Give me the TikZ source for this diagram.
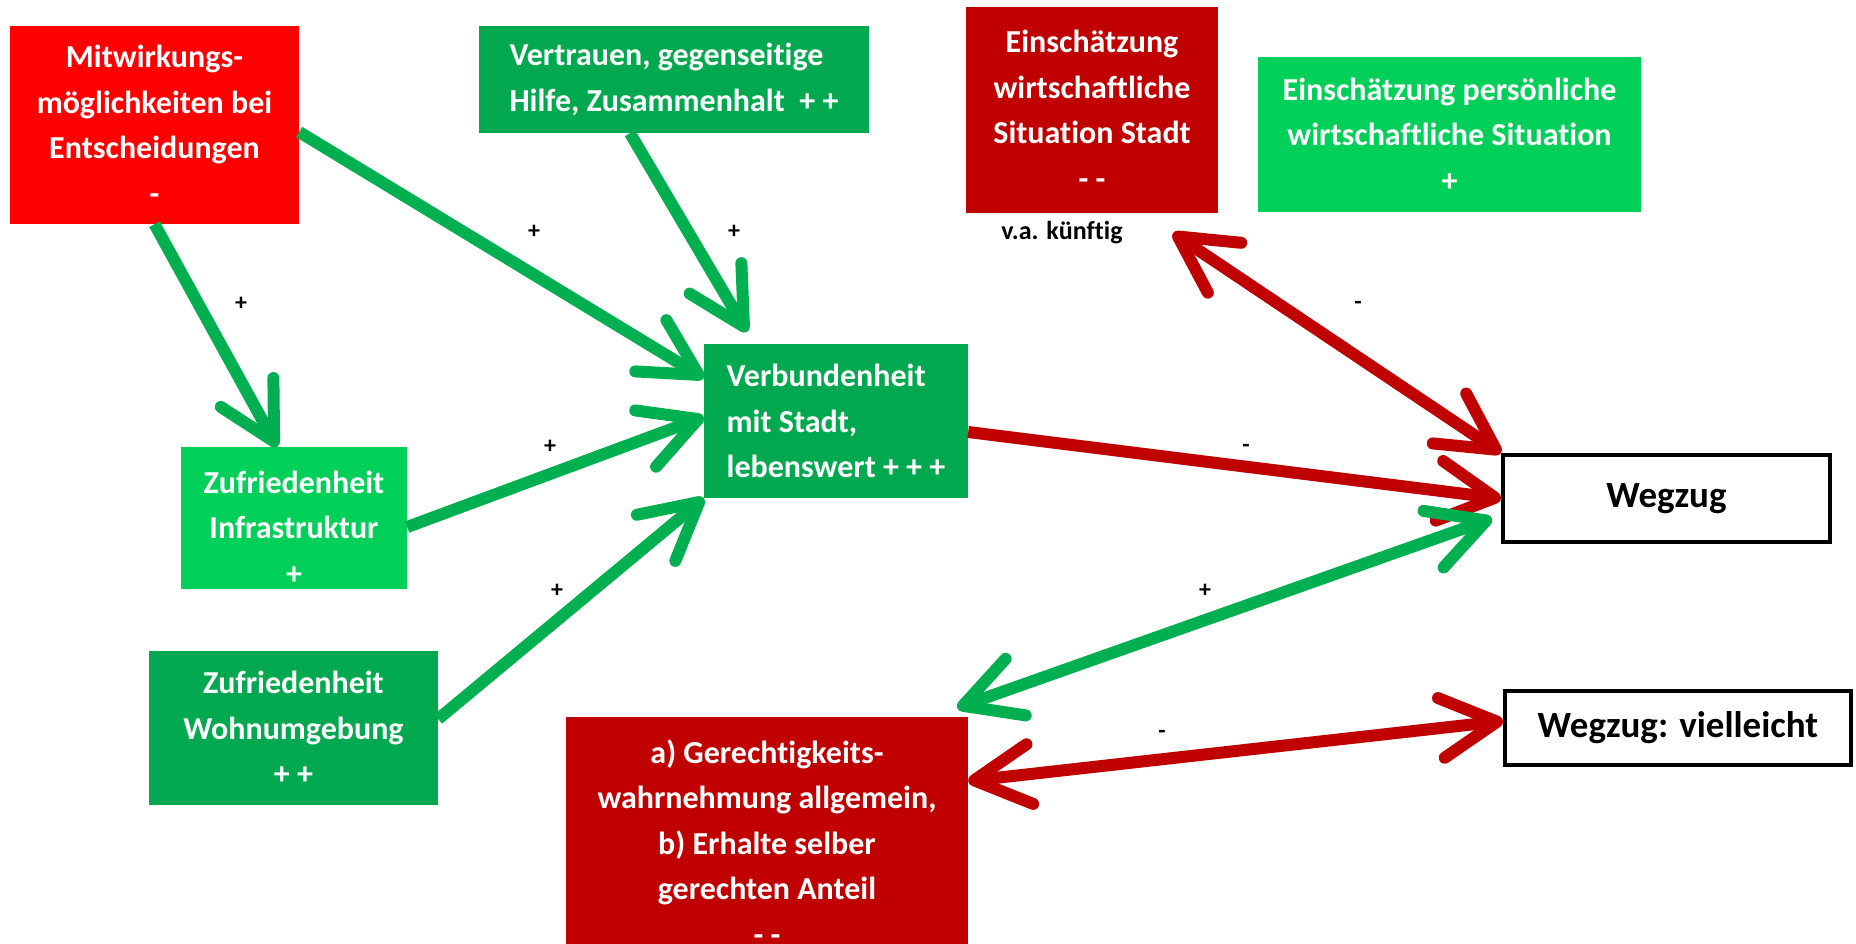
\documentclass[tikz,border=0pt]{standalone}
\usepackage{fontspec}
\setmainfont{Carlito}[Ligatures={TeX,NoCommon}]
\usepackage{tikz}
\usetikzlibrary{arrows.meta,positioning}
\definecolor{hellrot}{HTML}{FF0000}
\definecolor{dunkelrot}{HTML}{C00000}
\definecolor{gruen}{HTML}{00B050}
\definecolor{boxgruen}{HTML}{00A94F}
\definecolor{hellgruen}{HTML}{00D05A}

\begin{document}
\begin{tikzpicture}[x=1pt, y=-1pt, >={Straight Barb[length=56pt,width=60pt,round]},
box/.style={rectangle,inner sep=0pt,text=white,align=center,font=\bfseries\fontsize{32}{45.5}\selectfont},
end box/.style={rectangle,draw=black,line width=4pt,fill=white,inner sep=0pt,font=\bfseries\fontsize{37}{40}\selectfont},
sign/.style={inner sep=0pt,font=\bfseries\fontsize{24}{24}\selectfont},
green arrow/.style={draw=gruen,line width=12pt,->},
red arrow/.style={draw=dunkelrot,line width=12pt,->}]
\path[use as bounding box,fill=white] (0,0) rectangle (1856,944);
\begin{scope}
\node[box,fill=hellrot,minimum width=289pt,minimum height=198pt] (mitw) at (154.5,125) {Mitwirkungs-\\möglichkeiten bei\\Entscheidungen\\-};
\node[box,fill=boxgruen,align=left,minimum width=390pt,minimum height=107pt] (vertr) at (674,79.5) {Vertrauen, gegenseitige\\Hilfe, Zusammenhalt\ \ + +};
\node[box,fill=dunkelrot,minimum width=252pt,minimum height=206pt] (stadt) at (1092,110) {Einschätzung\\wirtschaftliche\\Situation Stadt\\- -};
\node[box,fill=hellgruen,minimum width=383pt,minimum height=155pt] (pers) at (1449.5,134.5) {Einschätzung persönliche\\wirtschaftliche Situation\\+};
\node[box,fill=boxgruen,align=left,minimum width=264pt,minimum height=154pt] (verb) at (836,421) {Verbundenheit\\mit Stadt,\\lebenswert + + +};
\node[box,fill=hellgruen,minimum width=226pt,minimum height=142pt] (infra) at (294,518) {\rule{0pt}{41pt}Zufriedenheit\\Infrastruktur\\+};
\node[box,fill=boxgruen,minimum width=289pt,minimum height=154pt] (wohn) at (293.5,728) {Zufriedenheit\\Wohnumgebung\\+ +};
% box runs on below the page edge
\node[box,fill=dunkelrot,minimum width=402pt,minimum height=251pt] (ger) at (767,842.5) {a) Gerechtigkeits-\\wahrnehmung allgemein,\\b) Erhalte selber\\gerechten Anteil\\- -};
\node[end box,minimum width=327pt,minimum height=87pt] (weg) at (1666.5,498.5) {Wegzug};
\node[end box,minimum width=346pt,minimum height=74pt] (viel) at (1678,728) {Wegzug: vielleicht};
\end{scope}
\begin{scope}[every node/.style={sign}]
\node (s1) at (241,304) {+};
\node (s2) at (534,232) {+};
\node (s3) at (734,232) {+};
\node (s4) at (550,447) {+};
\node (s5) at (557,591) {+};
\node (s6) at (1246,448) {-};
\node (s7) at (1358,305) {-};
\node (s8) at (1205,591) {+};
\node (s9) at (1162,734) {-};
\node[font=\bfseries\fontsize{26}{26}\selectfont] (va) at (1062,233) {v.a. künftig};
\end{scope}
\begin{scope}
\draw[green arrow] (mitw.south) -- ([xshift=-17pt]infra.north);
\draw[green arrow] ([yshift=-7pt]mitw.east) -- ([yshift=43pt]verb.west);
\draw[green arrow] ([xshift=-44pt]vertr.south) -- ([xshift=-89pt,yshift=12pt]verb.north);
\draw[green arrow] ([yshift=-9pt]infra.east) -- ([yshift=4pt]verb.west);
\draw[green arrow] ([yshift=9pt]wohn.east) -- (verb.south west);
\draw[red arrow] ([yshift=-11pt]verb.east) -- (weg.west);
\draw[red arrow,<->] ([xshift=81pt,yshift=-20pt]stadt.south) -- (weg.north west);
\draw[green arrow,<->] ([xshift=-11pt,yshift=9pt]ger.north east) -- ([xshift=-9pt,yshift=-20pt]weg.west);
\draw[red arrow,<->] ([yshift=61.5pt]ger.east) -- ([yshift=7pt]viel.west);
\end{scope}
\end{tikzpicture}
\end{document}
